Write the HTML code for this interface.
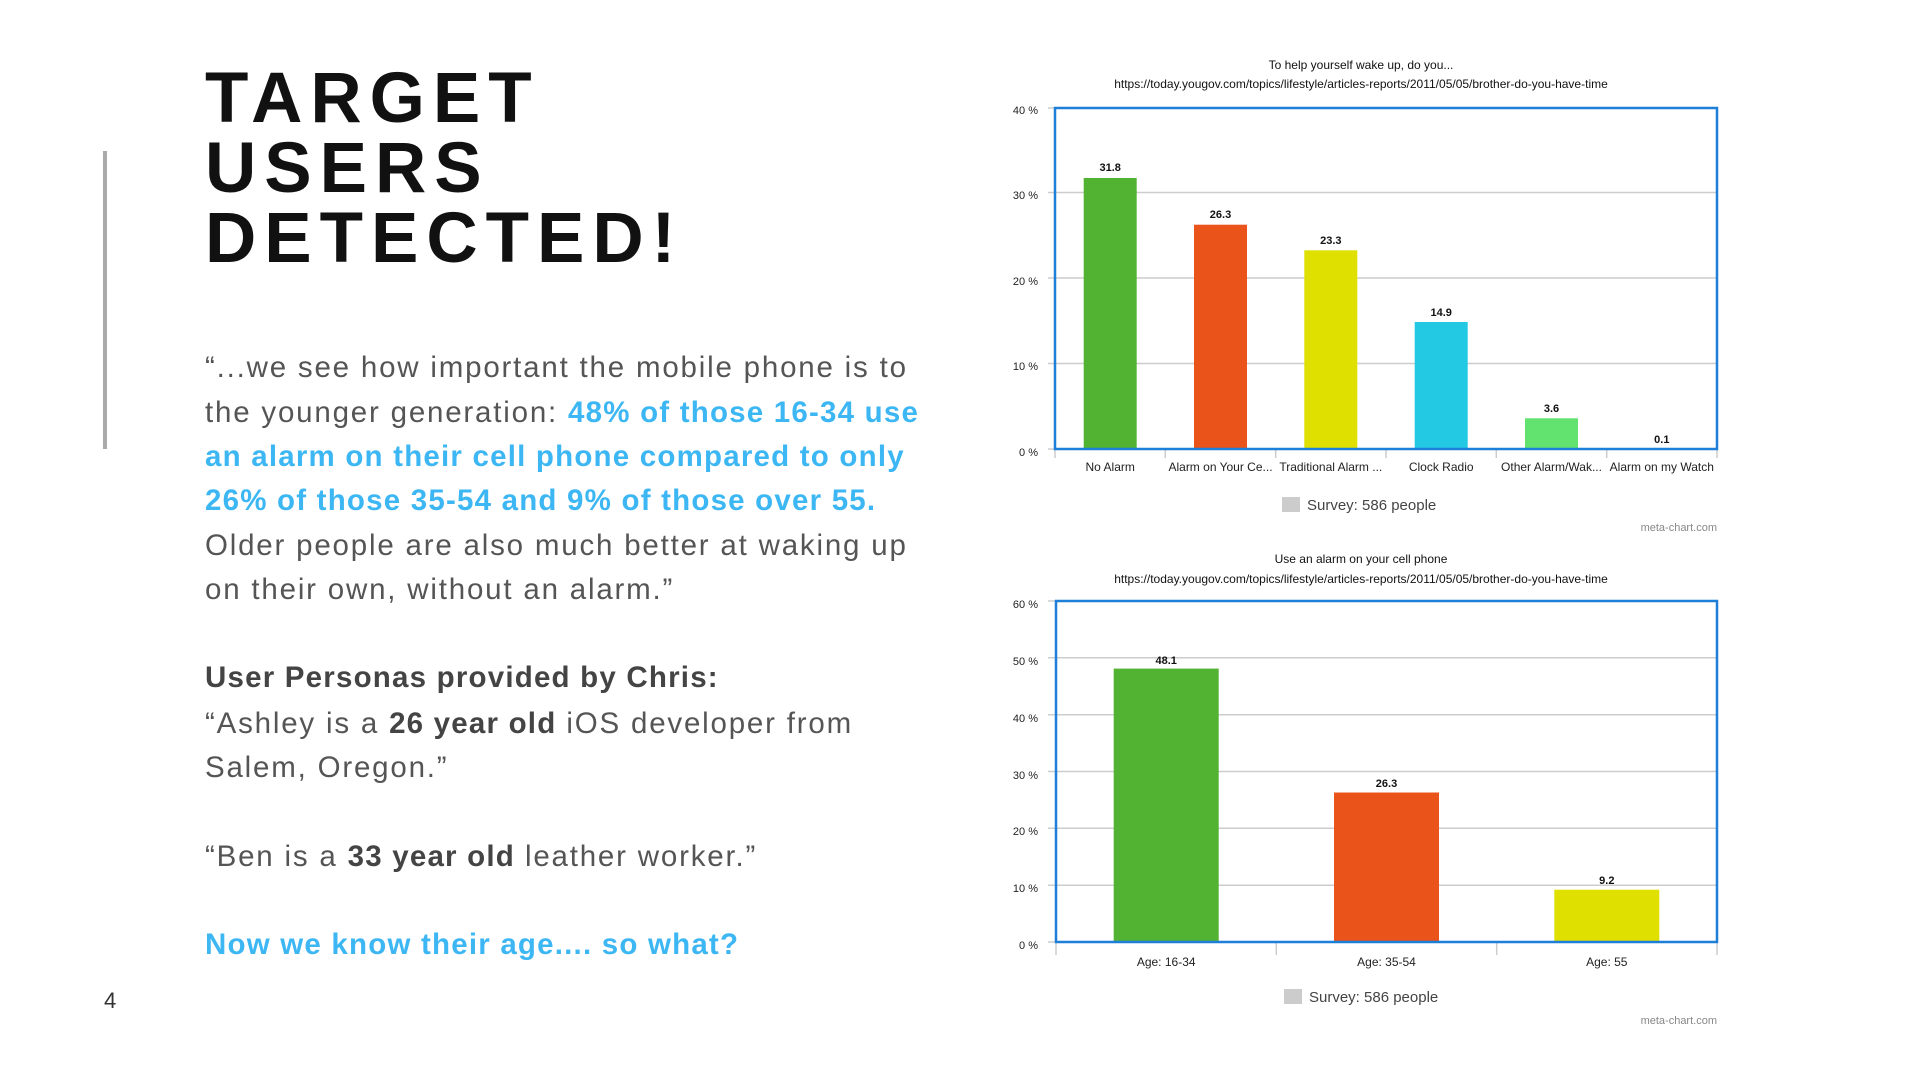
<!DOCTYPE html>
<html><head><meta charset="utf-8"><style>
html,body{margin:0;padding:0;background:#fff;width:1920px;height:1080px;overflow:hidden;position:relative;font-family:"Liberation Sans",sans-serif}
.t{position:absolute;left:205px;font-weight:bold;font-size:71px;letter-spacing:8px;color:#111;line-height:1}
.l{position:absolute;left:205px;font-size:29.5px;color:#555;letter-spacing:1.8px;white-space:nowrap;line-height:1}
.b{color:#3db7f4;font-weight:bold;letter-spacing:1.2px}
.k{font-weight:bold;color:#444;letter-spacing:1.2px}
</style></head><body>
<div class="t" style="top:63px">TARGET</div>
<div class="t" style="top:133px">USERS</div>
<div class="t" style="top:203px">DETECTED!</div>
<div style="position:absolute;left:103px;top:151px;width:4px;height:298px;background:#aaa"></div>
<div class="l" style="top:353px">“...we see how important the mobile phone is to</div>
<div class="l" style="top:398px">the younger generation: <span class="b">48% of those 16-34 use</span></div>
<div class="l" style="top:442px"><span class="b">an alarm on their cell phone compared to only</span></div>
<div class="l" style="top:486px"><span class="b">26% of those 35-54 and 9% of those over 55.</span></div>
<div class="l" style="top:531px">Older people are also much better at waking up</div>
<div class="l" style="top:575px">on their own, without an alarm.”</div>
<div class="l k" style="top:663px">User Personas provided by Chris:</div>
<div class="l" style="top:709px">“Ashley is a <span class="k">26 year old</span> iOS developer from</div>
<div class="l" style="top:753px">Salem, Oregon.”</div>
<div class="l" style="top:842px">“Ben is a <span class="k">33 year old</span> leather worker.”</div>
<div class="l b" style="top:930px">Now we know their age.... so what?</div>
<div style="position:absolute;left:104px;top:988px;font-size:22px;color:#333">4</div>

<svg width="1920" height="1080" style="position:absolute;left:0;top:0" font-family="Liberation Sans, sans-serif">
<g font-size="12" fill="#111" text-anchor="middle">
<text x="1361" y="69">To help yourself wake up, do you...</text>
<text x="1361" y="88">https://today.yougov.com/topics/lifestyle/articles-reports/2011/05/05/brother-do-you-have-time</text>
<text x="1361" y="563">Use an alarm on your cell phone</text>
<text x="1361" y="583">https://today.yougov.com/topics/lifestyle/articles-reports/2011/05/05/brother-do-you-have-time</text>
</g>
<g stroke="#ccc" stroke-width="1.5">
<line x1="1048" y1="192.5" x2="1717" y2="192.5"/><line x1="1048" y1="278" x2="1717" y2="278"/><line x1="1048" y1="363.5" x2="1717" y2="363.5"/>
<line x1="1048" y1="108" x2="1055" y2="108"/><line x1="1048" y1="449" x2="1055" y2="449"/>
<line x1="1055" y1="449" x2="1055" y2="458"/><line x1="1165.3" y1="449" x2="1165.3" y2="458"/><line x1="1275.7" y1="449" x2="1275.7" y2="458"/><line x1="1386" y1="449" x2="1386" y2="458"/><line x1="1496.3" y1="449" x2="1496.3" y2="458"/><line x1="1606.7" y1="449" x2="1606.7" y2="458"/><line x1="1717" y1="449" x2="1717" y2="458"/>
</g>
<g font-size="11" fill="#222" text-anchor="end">
<text x="1038" y="114">40 %</text><text x="1038" y="199">30 %</text><text x="1038" y="285">20 %</text><text x="1038" y="370">10 %</text><text x="1038" y="456">0 %</text>
</g>
<rect x="1083.7" y="178" width="53" height="271" fill="#52b232"/>
<rect x="1194" y="224.7" width="53" height="224.3" fill="#ea541b"/>
<rect x="1304.3" y="250.3" width="53" height="198.7" fill="#dfe000"/>
<rect x="1414.7" y="322" width="53" height="127" fill="#23c9e3"/>
<rect x="1525" y="418.3" width="53" height="30.7" fill="#62e36f"/>
<g font-size="11" font-weight="bold" fill="#111" text-anchor="middle">
<text x="1110.2" y="171">31.8</text><text x="1220.5" y="218">26.3</text><text x="1330.8" y="244">23.3</text><text x="1441.2" y="316">14.9</text><text x="1551.5" y="412">3.6</text><text x="1661.8" y="443">0.1</text>
</g>
<g font-size="12" fill="#222" text-anchor="middle">
<text x="1110.2" y="471">No Alarm</text><text x="1220.5" y="471">Alarm on Your Ce...</text><text x="1330.8" y="471">Traditional Alarm ...</text><text x="1441.2" y="471">Clock Radio</text><text x="1551.5" y="471">Other Alarm/Wak...</text><text x="1661.8" y="471">Alarm on my Watch</text>
</g>
<rect x="1055" y="108" width="662" height="341" fill="none" stroke="#1e7fd8" stroke-width="2.5"/>
<rect x="1282" y="497" width="18" height="15" fill="#ccc"/>
<text x="1307" y="510" font-size="15" fill="#444">Survey: 586 people</text>
<text x="1717" y="531" font-size="11" fill="#888" text-anchor="end">meta-chart.com</text>

<g stroke="#ccc" stroke-width="1.5">
<line x1="1048" y1="657.8" x2="1717" y2="657.8"/><line x1="1048" y1="714.7" x2="1717" y2="714.7"/><line x1="1048" y1="771.5" x2="1717" y2="771.5"/><line x1="1048" y1="828.3" x2="1717" y2="828.3"/><line x1="1048" y1="885.2" x2="1717" y2="885.2"/>
<line x1="1048" y1="601" x2="1056" y2="601"/><line x1="1048" y1="942" x2="1056" y2="942"/>
<line x1="1056" y1="942" x2="1056" y2="955"/><line x1="1276.3" y1="942" x2="1276.3" y2="955"/><line x1="1496.7" y1="942" x2="1496.7" y2="955"/><line x1="1717" y1="942" x2="1717" y2="955"/>
</g>
<g font-size="11" fill="#222" text-anchor="end">
<text x="1038" y="608">60 %</text><text x="1038" y="665">50 %</text><text x="1038" y="722">40 %</text><text x="1038" y="779">30 %</text><text x="1038" y="835">20 %</text><text x="1038" y="892">10 %</text><text x="1038" y="949">0 %</text>
</g>
<rect x="1113.7" y="668.6" width="105" height="273.4" fill="#52b232"/>
<rect x="1334" y="792.5" width="105" height="149.5" fill="#ea541b"/>
<rect x="1554.3" y="889.7" width="105" height="52.3" fill="#dfe000"/>
<g font-size="11" font-weight="bold" fill="#111" text-anchor="middle">
<text x="1166.2" y="664">48.1</text><text x="1386.5" y="787">26.3</text><text x="1606.8" y="884">9.2</text>
</g>
<g font-size="12" fill="#222" text-anchor="middle">
<text x="1166.2" y="966">Age: 16-34</text><text x="1386.5" y="966">Age: 35-54</text><text x="1606.8" y="966">Age: 55</text>
</g>
<rect x="1056" y="601" width="661" height="341" fill="none" stroke="#1e7fd8" stroke-width="2.5"/>
<rect x="1284" y="989" width="18" height="15" fill="#ccc"/>
<text x="1309" y="1002" font-size="15" fill="#444">Survey: 586 people</text>
<text x="1717" y="1024" font-size="11" fill="#888" text-anchor="end">meta-chart.com</text>
</svg>
</body></html>
